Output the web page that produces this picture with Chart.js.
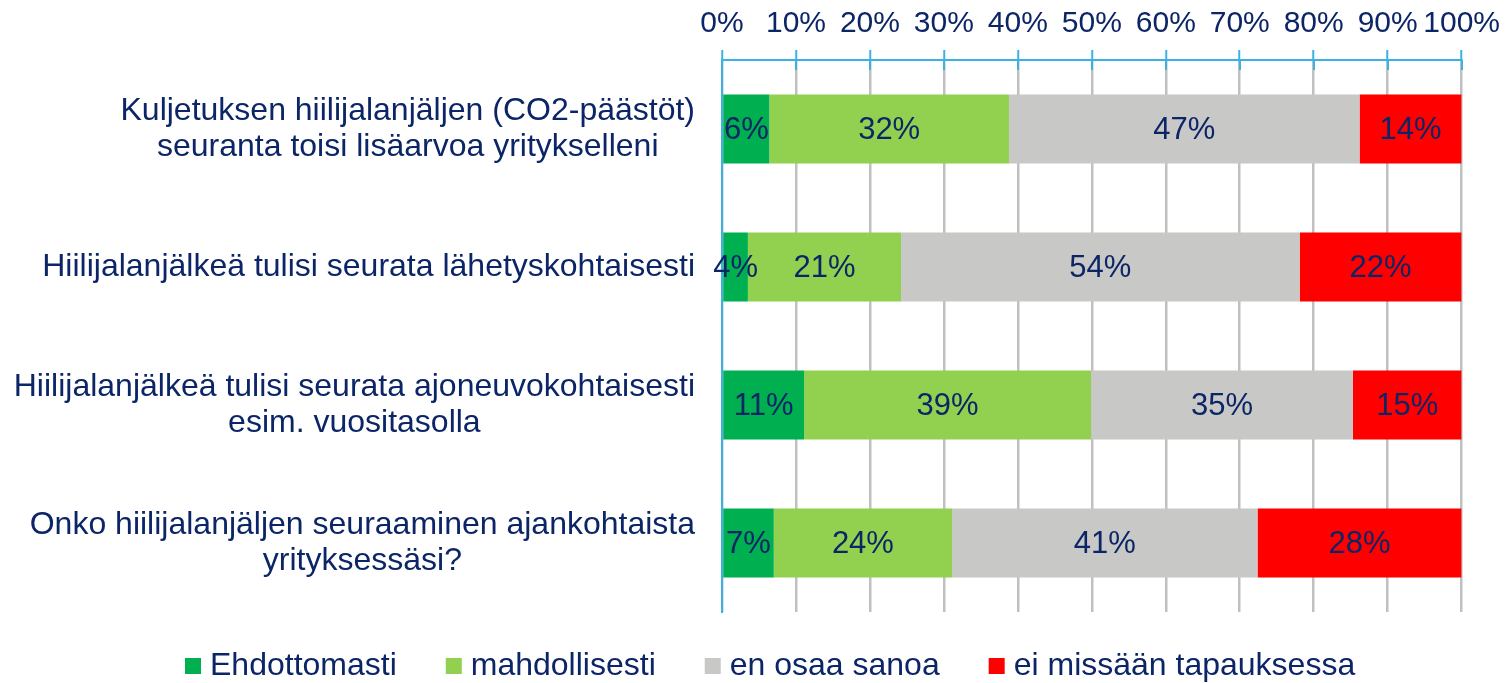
<!DOCTYPE html>
<html>
<head>
<meta charset="utf-8">
<script src="https://cdn.jsdelivr.net/npm/chart.js@4"></script>
<style>
  html, body { margin: 0; padding: 0; background: #fff; }
</style>
</head>
<body>
<canvas id="myChart" width="1508" height="683"></canvas>
<script>
'use strict';

// data
var categories = [
  ['Kuljetuksen hiilijalanjäljen (CO2-päästöt)', 'seuranta toisi lisäarvoa yritykselleni'],
  ['Hiilijalanjälkeä tulisi seurata lähetyskohtaisesti'],
  ['Hiilijalanjälkeä tulisi seurata ajoneuvokohtaisesti', 'esim. vuositasolla'],
  ['Onko hiilijalanjäljen seuraaminen ajankohtaista', 'yrityksessäsi?']
];
var seriesNames = ['Ehdottomasti', 'mahdollisesti', 'en osaa sanoa', 'ei missään tapauksessa'];
var ehdottomasti = [6.4, 3.5, 11.1, 7.0];
var mahdollisesti = [32.4, 20.7, 38.8, 24.1];
var enOsaaSanoa = [47.4, 53.9, 35.4, 41.3];
var eiMissaan = [13.8, 21.9, 14.7, 27.6];
var tickMin = 0, tickMax = 100, tickStep = 10;

var NAVY = '#0b2566';
var AXIS_BLUE = '#3bb2e6';
var FONT = '"Liberation Sans", Arial, sans-serif';

// bar value labels, category labels, legend and the blue tick stubs under the top axis
var drawExtras = {
  id: 'drawExtras',
  afterDatasetsDraw: function(chart) {
    var c = chart.ctx;
    var area = chart.chartArea;
    c.save();

    // short blue ticks just below the top axis line
    c.strokeStyle = AXIS_BLUE;
    c.lineWidth = 2;
    chart.scales.x.ticks.forEach(function(t) {
      var px = Math.round(chart.scales.x.getPixelForValue(t.value));
      c.beginPath();
      c.moveTo(px, area.top);
      c.lineTo(px, area.top + 10);
      c.stroke();
    });

    c.fillStyle = NAVY;
    c.textAlign = 'center';
    c.textBaseline = 'middle';
    c.font = '31px ' + FONT;
    chart.data.datasets.forEach(function(ds, i) {
      chart.getDatasetMeta(i).data.forEach(function(bar, j) {
        c.fillText(Math.round(ds.data[j]) + '%', (bar.x + bar.base) / 2, bar.y + 1);
      });
    });

    var ys = chart.scales.y;
    c.font = '32px ' + FONT;
    categories.forEach(function(lines, j) {
      var cy = ys.getPixelForValue(j);
      var w = 0;
      lines.forEach(function(l) { w = Math.max(w, c.measureText(l).width); });
      var cx = area.left - 27 - w / 2;
      var lh = 36;
      lines.forEach(function(l, k) {
        c.fillText(l, cx, cy + (k - (lines.length - 1) / 2) * lh);
      });
    });

    // legend
    c.textAlign = 'left';
    var lx = 185, ly = 666;
    chart.data.datasets.forEach(function(ds) {
      c.fillStyle = ds.backgroundColor;
      c.fillRect(lx, ly - 8, 16, 16);
      c.fillStyle = NAVY;
      c.fillText(ds.label, lx + 25, ly);
      lx += 25 + c.measureText(ds.label).width + 49;
    });
    c.restore();
  }
};

var ctx = document.getElementById('myChart').getContext('2d');

var chart = new Chart(ctx, {
  type: 'bar',
  data: {
    labels: categories,
    datasets: [{
      label: seriesNames[0],
      backgroundColor: '#00b050',
      data: ehdottomasti
    }, {
      label: seriesNames[1],
      backgroundColor: '#92d050',
      data: mahdollisesti
    }, {
      label: seriesNames[2],
      backgroundColor: '#c8c8c6',
      data: enOsaaSanoa
    }, {
      label: seriesNames[3],
      backgroundColor: '#ff0000',
      data: eiMissaan
    }]
  },
  options: {
    indexAxis: 'y',
    responsive: false,
    animation: false,
    barPercentage: 0.5,
    categoryPercentage: 1,
    layout: { padding: { left: 0, right: 46, top: 0, bottom: 71 } },
    scales: {
      x: {
        position: 'top',
        stacked: true,
        min: tickMin,
        max: tickMax,
        afterFit: function(scale) { scale.height = 60; },
        ticks: {
          stepSize: tickStep,
          color: NAVY,
          padding: 8,
          font: { family: FONT, size: 30 },
          maxRotation: 0,
          autoSkip: false,
          callback: function(v) { return v + '%'; }
        },
        grid: {
          color: '#c0c0c0',
          lineWidth: 2.5,
          tickColor: AXIS_BLUE,
          tickLength: 10,
          tickWidth: 2
        },
        border: { color: AXIS_BLUE, width: 2 }
      },
      y: {
        stacked: true,
        afterFit: function(scale) { scale.width = 722; },
        ticks: { display: false },
        grid: { display: false },
        border: { color: AXIS_BLUE, width: 2 }
      }
    },
    plugins: {
      legend: { display: false },
      tooltip: { enabled: false }
    }
  },
  plugins: [drawExtras]
});
</script>
</body>
</html>
